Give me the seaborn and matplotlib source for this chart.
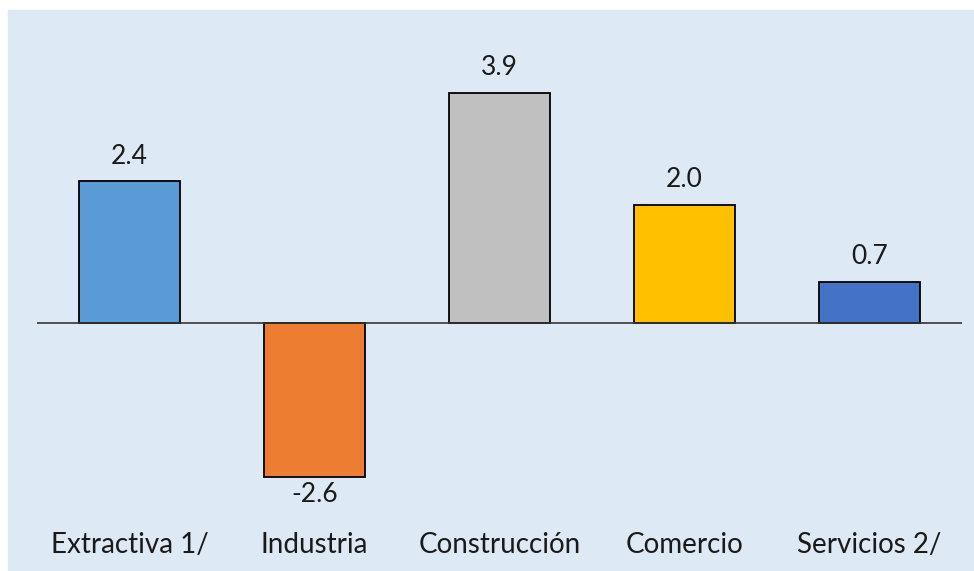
import matplotlib
matplotlib.use("Agg")
import matplotlib.pyplot as plt
import matplotlib.transforms as mtransforms
import pandas as pd
import seaborn as sns

sectors = ["Extractiva 1/", "Industria", "Construcción", "Comercio", "Servicios 2/"]
values = [2.4, -2.6, 3.9, 2.0, 0.7]
bar_colors = ["#5B9BD5", "#ED7D31", "#C0C0C0", "#FFC000", "#4472C4"]

BG = "#dde9f5"

sns.set_theme(style="white")
plt.rcParams["font.family"] = ["Lato", "DejaVu Sans"]

df = pd.DataFrame({"sector": sectors, "value": values})

fig = plt.figure(figsize=(9.74, 5.71), dpi=100, facecolor="white")
# light blue panel (white strip top and left like the source)
fig.add_artist(plt.Rectangle((8 / 974, 0), 1, 1 - 10 / 571,
                             transform=fig.transFigure, color=BG, zorder=-10))

ax = fig.add_axes([37 / 974, 0, 925 / 974, 561 / 571])
ax.set_facecolor("none")

sns.barplot(data=df, x="sector", y="value", hue="sector", palette=bar_colors,
            legend=False, width=0.55, saturation=1, edgecolor="black",
            linewidth=1.3, ax=ax, zorder=2)

ax.axhline(0, color="#333333", linewidth=1.2, zorder=3)
ax.set_xlim(-0.5, 4.5)
ax.set_ylim(-4.2, 5.3)
ax.set_xticks([])
ax.set_yticks([])
ax.set_xlabel("")
ax.set_ylabel("")
sns.despine(ax=ax, left=True, bottom=True)

# value labels
for i, v in enumerate(values):
    if v >= 0:
        ax.annotate(f"{v:.1f}", (i, v), xytext=(0, 9), textcoords="offset points",
                    ha="center", va="bottom", fontsize=19, color="#1a1a1a")
    else:
        ax.annotate(f"{v:.1f}", (i, v), xytext=(0, -4), textcoords="offset points",
                    ha="center", va="top", fontsize=19, color="#1a1a1a")

# category labels along the bottom
trans = mtransforms.blended_transform_factory(ax.transData, ax.transAxes)
for i, name in enumerate(sectors):
    ax.text(i, 26 / 561, name, transform=trans, ha="center", va="center",
            fontsize=20, color="#1a1a1a")

fig.savefig("out.png", dpi=100, facecolor="white")
